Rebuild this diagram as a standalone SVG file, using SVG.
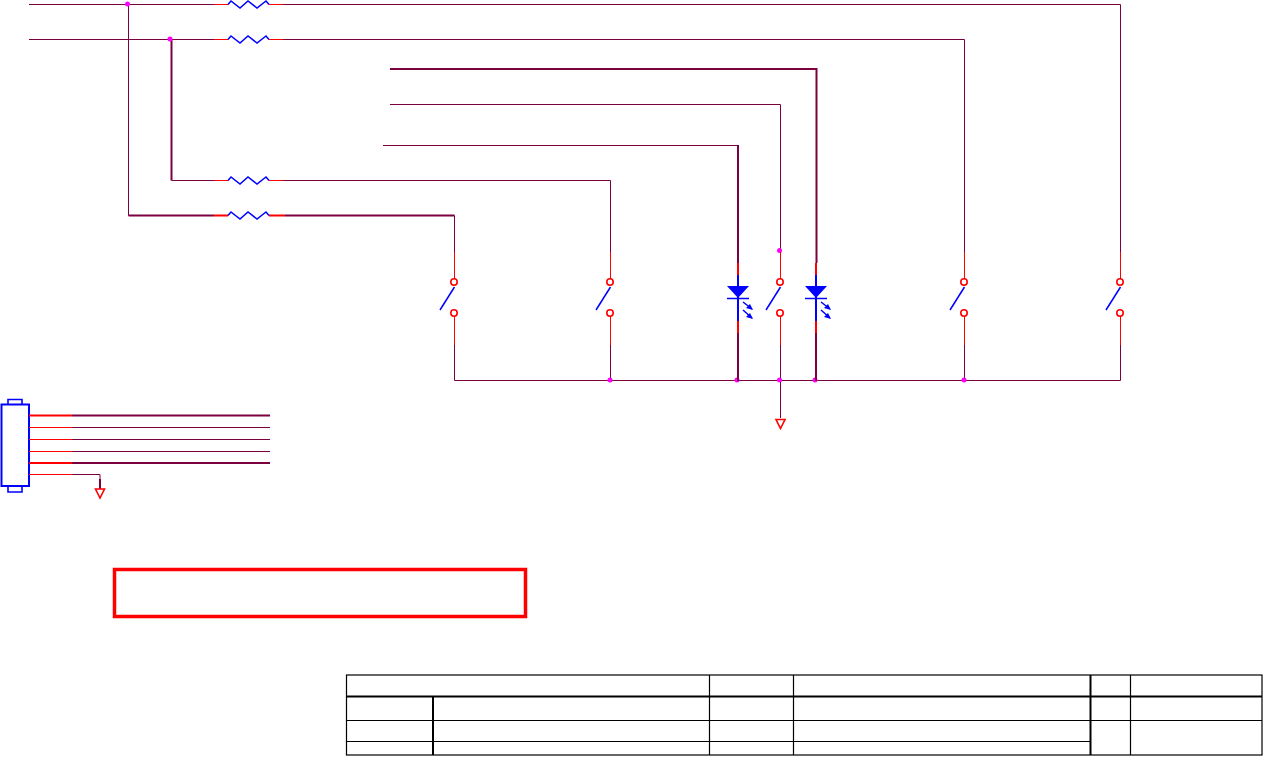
<svg xmlns="http://www.w3.org/2000/svg" xmlns:xlink="http://www.w3.org/1999/xlink" width="1264" height="757" viewBox="0 0 1264 757">
<style>
.w{fill:none;stroke:#7a0040;stroke-width:1}
.wt{fill:none;stroke:#7a0040;stroke-width:2}
.r{fill:none;stroke:#ff0000;stroke-width:1}
.rt{fill:none;stroke:#ff0000;stroke-width:2}
.rc{fill:none;stroke:#ff0000;stroke-width:1.6}
.b{fill:none;stroke:#0000ff;stroke-width:1.5}
.j{fill:#ff00ff;stroke:none}
.t{fill:none;stroke:#000;stroke-width:1.2}
.tt{fill:none;stroke:#000;stroke-width:2}
</style>
<defs>
<g id="res"><path class="r" d="M-36 0H-22M19 0H33"/><path class="b" d="M-22 0L-19 -3.500L-10 3.500L-2 -3.500L7 3.500L16 -3.500L19 0"/></g>
<g id="resT"><path class="rt" d="M-36 0H-22M19 0H35"/><path class="b" d="M-22 0L-19 -3.500L-10 3.500L-2 -3.500L7 3.500L16 -3.500L19 0"/></g>
<g id="sw"><path class="r" d="M0.500 -30V-3M0.500 34V63"/><circle class="rc" cx="0" r="3.200"/><circle class="rc" cy="31" r="3.200"/><path class="b" d="M0.500 5L-14 28"/></g>
<g id="led"><path class="wt" d="M0 46V95"/><path class="rt" d="M0 -23V-11M0 35V47"/><path d="M0 -11V35" fill="none" stroke="#0000ff" stroke-width="2"/><path d="M-11 0H11L0 12Z" fill="#0000ff"/><path class="b" d="M-11 12.500H11"/><path class="b" d="M5 16L14 23M5 24L14 32"/><path d="M15 24L8 22L12 18ZM15 33L8 31L12 27Z" fill="#0000ff"/></g>
<path id="gnd" class="rc" d="M-4 0H5L0.500 9Z"/>
</defs>
<g id="connectors">
<path class="w" d="M29 4.500H214M283 4.500H1120.500V252"/>
<path class="w" d="M29 39.500H214M283 39.500H964.500V252"/>
<path class="w" d="M128.500 4.500V215.500H214"/>
<path class="wt" d="M128.500 215.500H214M285 215.500H454.500"/>
<path class="w" d="M454.500 215.500V252"/>
<path class="wt" d="M171.500 39.500V180.500"/>
<path class="w" d="M171.500 180.500H214M283 180.500H610.500V252"/>
<path class="wt" d="M390 69H816.500V263"/>
<path class="w" d="M390 104.500H780.500V252"/>
<path class="w" d="M383 145.500H738"/>
<path class="wt" d="M738 145V263"/>
<path class="w" d="M454.500 345V380.500H1120.500V345M610.500 345V380M780.500 345V418M964.500 345V380"/>
<path class="wt" d="M72 415.500H270M72 463H270"/>
<path class="w" d="M72 427.500H270M72 439.500H270M72 451.500H270M72 474.500H100V479"/>
<path class="wt" d="M100 479V489"/>
</g>
<g id="junctions">
<circle class="j" cx="127.500" cy="4" r="2.500"/>
<circle class="j" cx="170" cy="39" r="2.500"/>
<circle class="j" cx="779.500" cy="250.500" r="2.500"/>
<circle class="j" cx="610" cy="380" r="2.500"/>
<circle class="j" cx="737" cy="380" r="2.500"/>
<circle class="j" cx="779.500" cy="380" r="2.500"/>
<circle class="j" cx="815" cy="380" r="2.500"/>
<circle class="j" cx="964" cy="380" r="2.500"/>
</g>
<g id="R1"><use xlink:href="#res" x="250" y="4.500"/></g>
<g id="R2"><use xlink:href="#res" x="250" y="39.500"/></g>
<g id="R3"><use xlink:href="#res" x="250" y="180.500"/></g>
<g id="R4"><use xlink:href="#resT" x="250" y="215.500"/></g>
<g id="S1"><use xlink:href="#sw" x="454" y="282"/></g>
<g id="S2"><use xlink:href="#sw" x="610" y="282"/></g>
<g id="S3"><use xlink:href="#sw" x="780" y="282"/></g>
<g id="S4"><use xlink:href="#sw" x="964" y="282"/></g>
<g id="S5"><use xlink:href="#sw" x="1120" y="282"/></g>
<g id="D1"><use xlink:href="#led" x="738" y="286"/></g>
<g id="D2"><use xlink:href="#led" x="816" y="286"/></g>
<g id="GND1"><use xlink:href="#gnd" x="780" y="419.500"/></g>
<g id="GND2"><use xlink:href="#gnd" x="99.500" y="489"/></g>
<g id="J1">
<rect x="1.500" y="404.500" width="27.500" height="81.500" fill="#fff" stroke="#0000ff" stroke-width="2"/>
<path d="M8 404V399.500H22V404M8 487V492H22V487" fill="none" stroke="#0000ff" stroke-width="1.600"/>
<path class="rt" d="M29 415.500H72M29 463H72"/>
<path class="r" d="M29 427.500H72M29 439.500H72M29 451.500H72M29 474.500H72"/>
</g>
<g id="warning-box"><rect x="114.500" y="569.500" width="411" height="47" fill="none" stroke="#ff0000" stroke-width="3.500"/></g>
<g id="title-block">
<rect class="t" x="346.500" y="675" width="915.500" height="80"/>
<path class="tt" d="M347 696.500H1262M433 697V755M1090.500 675V755"/>
<path class="t" d="M709.500 675V755M793.500 675V755M1130.500 675V755M347 720.500H1262M347 741.500H1090"/>
</g>
</svg>
